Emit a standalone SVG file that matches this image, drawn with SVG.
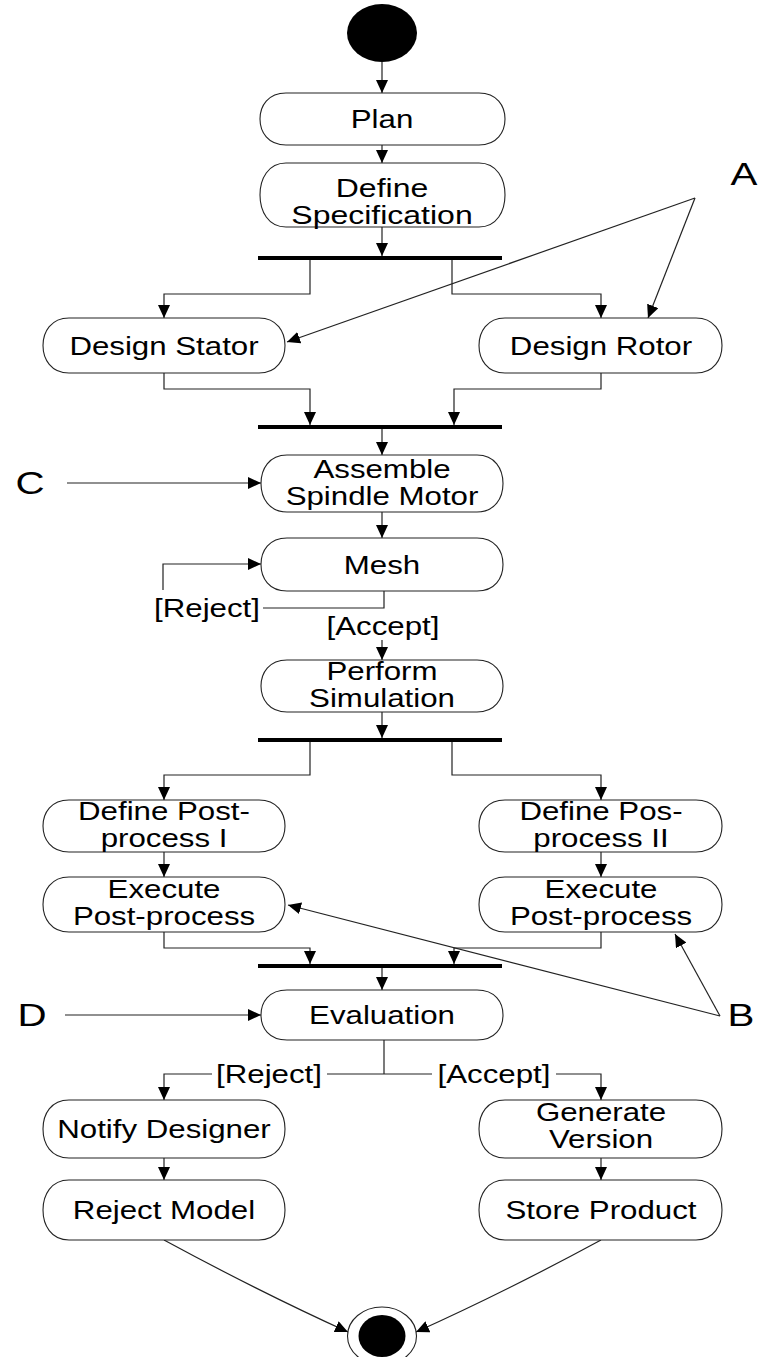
<svg xmlns="http://www.w3.org/2000/svg" width="762" height="1357" viewBox="0 0 762 1357">
  <style>
    .node { fill: #ffffff; stroke: #222222; stroke-width: 1.1; }
    .lbl { font-family: "Liberation Sans", Arial, sans-serif; font-size: 25px; fill: #000000; text-anchor: middle; }
    .big { font-family: "Liberation Sans", Arial, sans-serif; font-size: 31px; fill: #000000; text-anchor: middle; }
    .edge { fill: none; stroke: #222222; stroke-width: 1.2; }
    .arr { fill: none; stroke: #222222; stroke-width: 1.2; marker-end: url(#head); }
    .bar { stroke: #000000; stroke-width: 4; }
  </style>
  <defs>
    <marker id="head" markerUnits="userSpaceOnUse" markerWidth="14" markerHeight="12" refX="13" refY="6" orient="auto">
      <path d="M0,0 L13,6 L0,12 Z" fill="#000000"/>
    </marker>
  </defs>

  <rect width="762" height="1357" fill="#ffffff"/>

  <!-- connectors -->
  <g id="connectors">
    <line class="arr" x1="382" y1="62" x2="382" y2="93"/>
    <line class="arr" x1="382" y1="145" x2="382" y2="163"/>
    <line class="arr" x1="382" y1="227" x2="382" y2="256"/>
    <!-- fork 1 -->
    <polyline class="arr" points="310,258 310,294 164,294 164,318"/>
    <polyline class="arr" points="452,258 452,294 601,294 601,318"/>
    <!-- join 1 -->
    <polyline class="arr" points="164,373 164,389 310,389 310,425"/>
    <polyline class="arr" points="601,373 601,389 454,389 454,425"/>
    <line class="arr" x1="382" y1="427" x2="382" y2="455"/>
    <line class="arr" x1="67" y1="483" x2="261" y2="483"/>
    <line class="arr" x1="382" y1="512" x2="382" y2="538"/>
    <!-- mesh decision -->
    <polyline class="edge" points="384,591 384,608 263,608"/>
    <polyline class="arr" points="163,590 163,564 261,564"/>
    <line class="arr" x1="382" y1="640" x2="382" y2="660"/>
    <line class="arr" x1="382" y1="712" x2="382" y2="738"/>
    <!-- fork 2 -->
    <polyline class="arr" points="310,740 310,775 164,775 164,800"/>
    <polyline class="arr" points="452,740 452,775 601,775 601,800"/>
    <line class="arr" x1="164" y1="852" x2="164" y2="877"/>
    <line class="arr" x1="601" y1="852" x2="601" y2="877"/>
    <!-- join 2 -->
    <polyline class="arr" points="164,932 164,948 310,948 310,964"/>
    <polyline class="arr" points="601,932 601,948 454,948 454,964"/>
    <line class="arr" x1="382" y1="966" x2="382" y2="990"/>
    <line class="arr" x1="65" y1="1015" x2="261" y2="1015"/>
    <!-- evaluation decision -->
    <line class="edge" x1="384" y1="1040" x2="384" y2="1074"/>
    <line class="edge" x1="327" y1="1074" x2="432" y2="1074"/>
    <polyline class="arr" points="212,1074 164,1074 164,1100"/>
    <polyline class="arr" points="556,1074 601,1074 601,1100"/>
    <line class="arr" x1="164" y1="1158" x2="164" y2="1180"/>
    <line class="arr" x1="601" y1="1158" x2="601" y2="1180"/>
    <path class="arr" d="M164,1240 Q260,1292 348,1332"/>
    <path class="arr" d="M601,1240 Q505,1292 416,1332"/>
    <!-- annotation pointers -->
    <line class="arr" x1="695" y1="198" x2="287" y2="342"/>
    <line class="arr" x1="695" y1="198" x2="648" y2="318"/>
    <line class="arr" x1="720" y1="1016" x2="288" y2="905"/>
    <line class="arr" x1="720" y1="1016" x2="675" y2="934"/>
  </g>

  <!-- synchronisation bars -->
  <g id="bar1"><line class="bar" x1="258" y1="258" x2="502" y2="258"/></g>
  <g id="bar2"><line class="bar" x1="258" y1="427" x2="502" y2="427"/></g>
  <g id="bar3"><line class="bar" x1="258" y1="740" x2="502" y2="740"/></g>
  <g id="bar4"><line class="bar" x1="258" y1="966" x2="502" y2="966"/></g>

  <!-- start / end -->
  <g id="start"><ellipse cx="382" cy="33" rx="35" ry="29" fill="#000000"/></g>
  <g id="end">
    <ellipse cx="382" cy="1336" rx="34.5" ry="29" fill="#ffffff" stroke="#222222" stroke-width="1.1"/>
    <ellipse cx="382" cy="1336" rx="23.5" ry="21" fill="#000000"/>
  </g>

  <!-- activities -->
  <g id="plan">
    <path class="node" d="M286,93 H479 C497,93 505,106 505,119 C505,132 497,145 479,145 H286 C268,145 260,132 260,119 C260,106 268,93 286,93 Z"/>
    <text class="lbl" transform="translate(382,128) scale(1.25,1)">Plan</text>
  </g>
  <g id="define-specification">
    <path class="node" d="M286,163 H479 C497,163 505,179 505,195 C505,211 497,227 479,227 H286 C268,227 260,211 260,195 C260,179 268,163 286,163 Z"/>
    <text class="lbl" transform="translate(382,197) scale(1.28,1)">Define</text>
    <text class="lbl" transform="translate(382,224) scale(1.28,1)">Specification</text>
  </g>
  <g id="design-stator">
    <path class="node" d="M69,318 H259 C277,318 285,332 285,345.5 C285,359 277,373 259,373 H69 C51,373 43,359 43,345.5 C43,332 51,318 69,318 Z"/>
    <text class="lbl" transform="translate(164,355) scale(1.25,1)">Design Stator</text>
  </g>
  <g id="design-rotor">
    <path class="node" d="M505,318 H696 C714,318 722,332 722,345.5 C722,359 714,373 696,373 H505 C487,373 479,359 479,345.5 C479,332 487,318 505,318 Z"/>
    <text class="lbl" transform="translate(601,355) scale(1.25,1)">Design Rotor</text>
  </g>
  <g id="assemble">
    <path class="node" d="M287,455 H477 C495,455 503,469 503,483.5 C503,498 495,512 477,512 H287 C269,512 261,498 261,483.5 C261,469 269,455 287,455 Z"/>
    <text class="lbl" transform="translate(382,478) scale(1.25,1)">Assemble</text>
    <text class="lbl" transform="translate(382,505) scale(1.25,1)">Spindle Motor</text>
  </g>
  <g id="mesh">
    <path class="node" d="M287,538 H477 C495,538 503,551 503,564.5 C503,578 495,591 477,591 H287 C269,591 261,578 261,564.5 C261,551 269,538 287,538 Z"/>
    <text class="lbl" transform="translate(382,574) scale(1.25,1)">Mesh</text>
  </g>
  <g id="mesh-guards">
    <text class="lbl" transform="translate(207,617) scale(1.25,1)">[Reject]</text>
    <text class="lbl" transform="translate(383,635) scale(1.25,1)">[Accept]</text>
  </g>
  <g id="perform-simulation">
    <path class="node" d="M287,660 H477 C495,660 503,673 503,686 C503,699 495,712 477,712 H287 C269,712 261,699 261,686 C261,673 269,660 287,660 Z"/>
    <text class="lbl" transform="translate(382,680) scale(1.25,1)">Perform</text>
    <text class="lbl" transform="translate(382,707) scale(1.25,1)">Simulation</text>
  </g>
  <g id="define-post-1">
    <path class="node" d="M69,800 H259 C277,800 285,813 285,826 C285,839 277,852 259,852 H69 C51,852 43,839 43,826 C43,813 51,800 69,800 Z"/>
    <text class="lbl" transform="translate(164,820) scale(1.25,1)">Define Post-</text>
    <text class="lbl" transform="translate(164,847) scale(1.25,1)">process I</text>
  </g>
  <g id="define-post-2">
    <path class="node" d="M505,800 H696 C714,800 722,813 722,826 C722,839 714,852 696,852 H505 C487,852 479,839 479,826 C479,813 487,800 505,800 Z"/>
    <text class="lbl" transform="translate(601,820) scale(1.25,1)">Define Pos-</text>
    <text class="lbl" transform="translate(601,847) scale(1.25,1)">process II</text>
  </g>
  <g id="execute-post-1">
    <path class="node" d="M69,877 H259 C277,877 285,891 285,904.5 C285,918 277,932 259,932 H69 C51,932 43,918 43,904.5 C43,891 51,877 69,877 Z"/>
    <text class="lbl" transform="translate(164,898) scale(1.25,1)">Execute</text>
    <text class="lbl" transform="translate(164,925) scale(1.25,1)">Post-process</text>
  </g>
  <g id="execute-post-2">
    <path class="node" d="M505,877 H696 C714,877 722,891 722,904.5 C722,918 714,932 696,932 H505 C487,932 479,918 479,904.5 C479,891 487,877 505,877 Z"/>
    <text class="lbl" transform="translate(601,898) scale(1.25,1)">Execute</text>
    <text class="lbl" transform="translate(601,925) scale(1.25,1)">Post-process</text>
  </g>
  <g id="evaluation">
    <path class="node" d="M287,990 H477 C495,990 503,1002 503,1015 C503,1028 495,1040 477,1040 H287 C269,1040 261,1028 261,1015 C261,1002 269,990 287,990 Z"/>
    <text class="lbl" transform="translate(382,1024) scale(1.25,1)">Evaluation</text>
  </g>
  <g id="evaluation-guards">
    <text class="lbl" transform="translate(269,1083) scale(1.25,1)">[Reject]</text>
    <text class="lbl" transform="translate(494,1083) scale(1.25,1)">[Accept]</text>
  </g>
  <g id="notify-designer">
    <path class="node" d="M69,1100 H259 C277,1100 285,1114 285,1129 C285,1144 277,1158 259,1158 H69 C51,1158 43,1144 43,1129 C43,1114 51,1100 69,1100 Z"/>
    <text class="lbl" transform="translate(164,1138) scale(1.25,1)">Notify Designer</text>
  </g>
  <g id="generate-version">
    <path class="node" d="M505,1100 H696 C714,1100 722,1114 722,1129 C722,1144 714,1158 696,1158 H505 C487,1158 479,1144 479,1129 C479,1114 487,1100 505,1100 Z"/>
    <text class="lbl" transform="translate(601,1121) scale(1.25,1)">Generate</text>
    <text class="lbl" transform="translate(601,1148) scale(1.25,1)">Version</text>
  </g>
  <g id="reject-model">
    <path class="node" d="M69,1180 H259 C277,1180 285,1195 285,1210 C285,1225 277,1240 259,1240 H69 C51,1240 43,1225 43,1210 C43,1195 51,1180 69,1180 Z"/>
    <text class="lbl" transform="translate(164,1219) scale(1.25,1)">Reject Model</text>
  </g>
  <g id="store-product">
    <path class="node" d="M505,1180 H696 C714,1180 722,1195 722,1210 C722,1225 714,1240 696,1240 H505 C487,1240 479,1225 479,1210 C479,1195 487,1180 505,1180 Z"/>
    <text class="lbl" transform="translate(601,1219) scale(1.25,1)">Store Product</text>
  </g>

  <!-- annotation letters -->
  <g id="label-a"><text class="big" transform="translate(744,185) scale(1.3,1)">A</text></g>
  <g id="label-b"><text class="big" transform="translate(741,1026) scale(1.3,1)">B</text></g>
  <g id="label-c"><text class="big" transform="translate(30,494) scale(1.3,1)">C</text></g>
  <g id="label-d"><text class="big" transform="translate(32,1026) scale(1.3,1)">D</text></g>
</svg>
